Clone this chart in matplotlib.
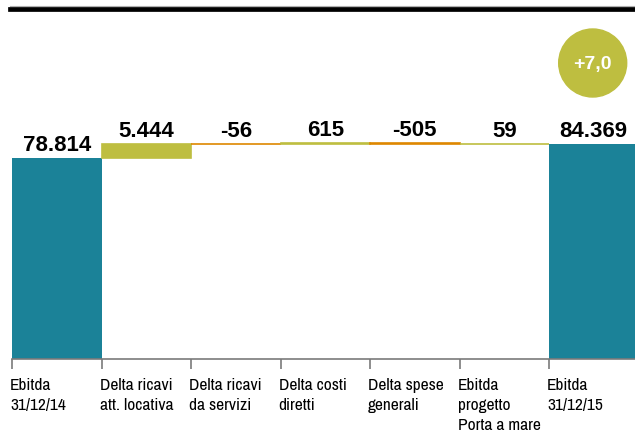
import matplotlib.pyplot as plt
import matplotlib.transforms as mtrans
from matplotlib.patches import Ellipse
from matplotlib.lines import Line2D
import numpy as np

# --- data ---
categories = ["Ebitda\n31/12/14", "Delta ricavi\natt. locativa", "Delta ricavi\nda servizi",
              "Delta costi\ndiretti", "Delta spese\ngenerali", "Ebitda\nprogetto\nPorta a mare",
              "Ebitda\n31/12/15"]
start_value = 78814
deltas = [5444, -56, 615, -505, 59]
end_value = 84369
value_labels = ["78.814", "5.444", "-56", "615", "-505", "59", "84.369"]
change_label = "+7,0"

TEAL = "#1b8298"
OLIVE = "#bebe40"
ORANGE = "#de8700"
LABEL_FONT = ["Archivo Narrow", "DejaVu Sans"]
VALUE_FONT = ["Liberation Sans", "DejaVu Sans"]

fig = plt.figure(figsize=(6.35, 4.35), dpi=100)
ax = fig.add_axes([12 / 635, 75 / 435, 623 / 635, 360 / 435])

# totals
ax.bar(0, start_value, width=1.0, color=TEAL, linewidth=0)
ax.bar(6, end_value, width=1.0, color=TEAL, linewidth=0)

# deltas (floating bars)
cum = np.concatenate([[start_value], start_value + np.cumsum(deltas)])
tops = [start_value]
for i, d in enumerate(deltas):
    base = cum[i]
    col = OLIVE if d >= 0 else ORANGE
    ax.bar(i + 1, d, bottom=base, width=1.0, color=col, edgecolor=col, linewidth=1.2)
    tops.append(max(base, base + d))
tops.append(end_value)

for i, (t, lab) in enumerate(zip(tops, value_labels)):
    ax.annotate(lab, (i, t), xytext=(0, 8), textcoords="offset pixels",
                ha="center", va="baseline", fontsize=16, fontweight="bold", family=VALUE_FONT)

ax.set_xlim(-0.5, -0.5 + 623 / 89.5)
ax.set_ylim(0, 360 * 392.3)

for s in ["top", "right", "left"]:
    ax.spines[s].set_visible(False)
ax.spines["bottom"].set_color("#7a7a7a")
ax.spines["bottom"].set_linewidth(1.2)
ax.set_yticks([])
ax.set_xticks(np.arange(len(categories)) - 0.5)
ax.set_xticklabels(categories, family=LABEL_FONT, fontsize=12.5, linespacing=1.42)
ax.tick_params(axis="x", length=7.5, width=1.2, color="#7a7a7a", pad=5.5)
off = mtrans.ScaledTranslation(-2 / 100, 0, fig.dpi_scale_trans)
for lab in ax.get_xticklabels():
    lab.set_horizontalalignment("left")
    lab.set_verticalalignment("top")
    lab.set_transform(lab.get_transform() + off)

# top rule
fig.add_artist(Line2D([10 / 635, 1], [1 - 6.5 / 435] * 2, color="#b0b0b0", linewidth=0.8))
fig.add_artist(Line2D([10 / 635, 1], [1 - 9.7 / 435] * 2, color="black", linewidth=3.4))

# change badge
cx, cy, r = 592.7, 64, 34
fig.add_artist(Ellipse((cx / 635, 1 - cy / 435), 2 * r / 635, 2 * r / 435,
                       color=OLIVE, transform=fig.transFigure))
fig.text(cx / 635, 1 - cy / 435, change_label, color="white", fontsize=14, fontweight="bold",
         family=VALUE_FONT, ha="center", va="center")

fig.savefig("out.png", dpi=100)
